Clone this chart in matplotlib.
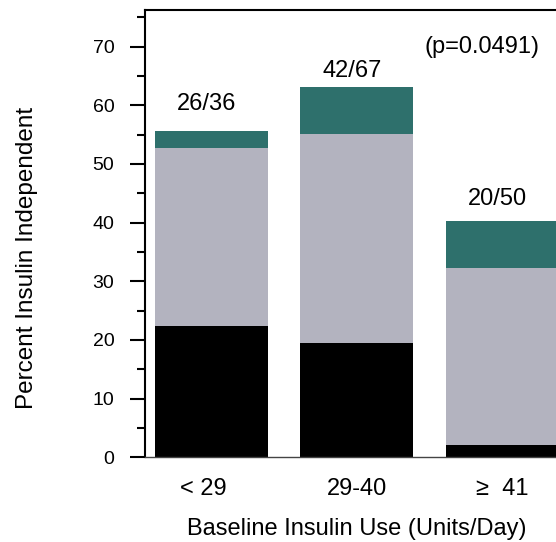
import matplotlib.pyplot as plt
from matplotlib.ticker import MultipleLocator
from matplotlib.transforms import ScaledTranslation

# Data
groups = ['< 29', '29-40', '\u2265  41']
black_part = [22.4, 19.5, 2.1]
gray_part = [30.4, 35.6, 30.2]
teal_part = [2.9, 8.0, 8.0]
counts = ['26/36', '42/67', '20/50']

plt.rcParams['font.family'] = ['Liberation Sans', 'DejaVu Sans']

fig = plt.figure(figsize=(5.56, 5.42), dpi=100)
# axes deliberately runs past the right edge of the figure, as in the reference
ax = fig.add_axes([145 / 556, (542 - 457.3) / 542, 444 / 556, (457.3 - 10) / 542])

x = range(len(groups))
w = 0.776
ax.bar(x, black_part, width=w, color='black')
ax.bar(x, gray_part, width=w, bottom=black_part, color='#b3b3bf')
tops_mid = [b + g for b, g in zip(black_part, gray_part)]
ax.bar(x, teal_part, width=w, bottom=tops_mid, color='#2e706c')

offsets = [4.5, 2.8, 3.8]
for i, lab in enumerate(counts):
    top = tops_mid[i] + teal_part[i]
    ax.text(i - 0.03, top + offsets[i], lab, ha='center', va='center', fontsize=17)

ax.text(1.862, 70, '(p=0.0491)', ha='center', va='center', fontsize=17)

ax.set_xlim(-0.457, 2.6)
ax.set_ylim(0, 76.25)
ax.yaxis.set_major_locator(MultipleLocator(10))
ax.yaxis.set_minor_locator(MultipleLocator(5))
ax.tick_params(axis='y', which='major', length=11, width=1.5, labelsize=14, pad=11, direction='out')
ax.tick_params(axis='y', which='minor', length=6, width=1.5)
ax.set_xticks(list(x))
ax.set_xticklabels(groups, fontsize=17)
ax.tick_params(axis='x', length=0, pad=15)
# first category label sits a little left of its bar in the original
ax.get_xticklabels()[0].set_transform(
    ax.get_xticklabels()[0].get_transform() + ScaledTranslation(-8 / 100, 0, fig.dpi_scale_trans))

ax.spines['left'].set_linewidth(1.5)
ax.spines['top'].set_linewidth(1.5)
ax.spines['right'].set_visible(False)
ax.spines['bottom'].set_color('#444444')
ax.spines['bottom'].set_linewidth(1)

fig.text(357 / 556, 1 - 529 / 542, 'Baseline Insulin Use (Units/Day)', ha='center', va='center', fontsize=17)
fig.text(27 / 556, 1 - 258 / 542, 'Percent Insulin Independent', ha='center', va='center',
         rotation=90, fontsize=17.5)

fig.savefig('out.png', dpi=100)
